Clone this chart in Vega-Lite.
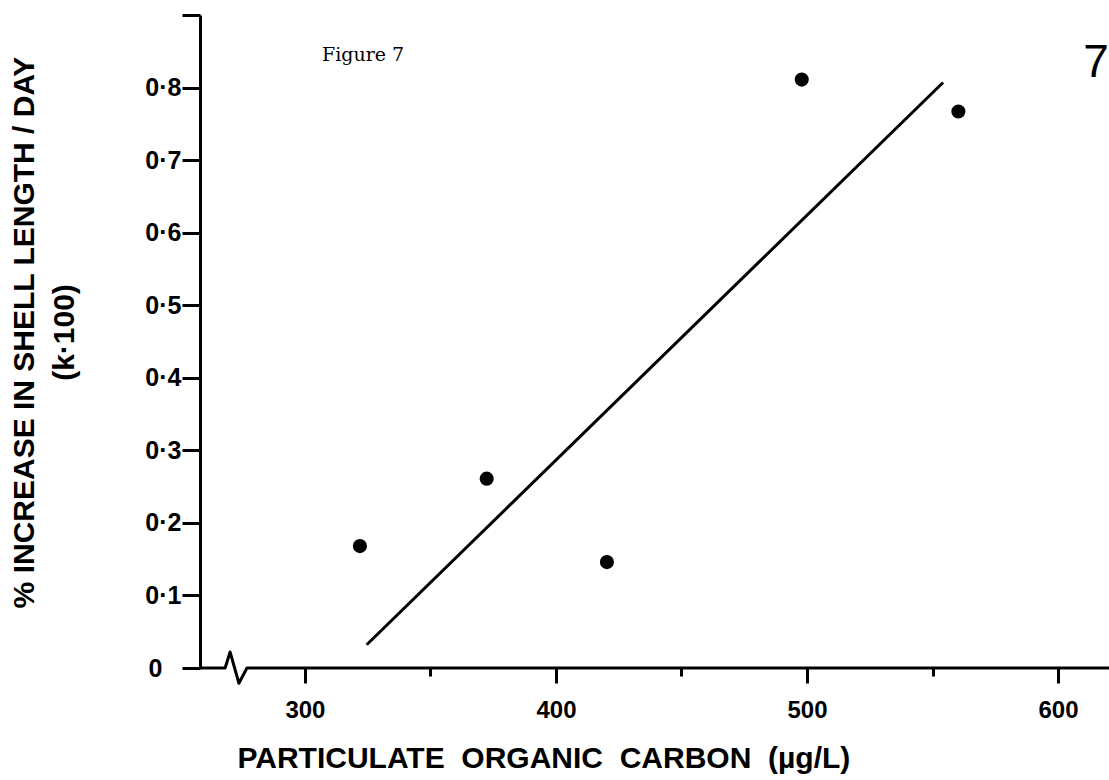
{
  "$schema": "https://vega.github.io/schema/vega-lite/v6.json",
  "width": 909,
  "height": 653,
  "autosize": {"type": "none"},
  "padding": {"left": 200, "top": 15, "right": 0, "bottom": 112},
  "background": "white",
  "config": {"view": {"stroke": null}, "font": "Liberation Sans"},
  "datasets": {
    "points": [
      {"carbon": 321.9, "k": 0.168},
      {"carbon": 372.4, "k": 0.261},
      {"carbon": 420.3, "k": 0.146},
      {"carbon": 497.9, "k": 0.811},
      {"carbon": 560.3, "k": 0.767}
    ],
    "fit": [
      {"carbon": 324.6, "k": 0.032},
      {"carbon": 554.2, "k": 0.807}
    ],
    "xaxisline": [
      {"seq": 1, "carbon": 258.2, "k": 0},
      {"seq": 2, "carbon": 268.2, "k": 0},
      {"seq": 3, "carbon": 270.2, "k": 0.022},
      {"seq": 4, "carbon": 273.7, "k": -0.021},
      {"seq": 5, "carbon": 276.9, "k": 0},
      {"seq": 6, "carbon": 620.3, "k": 0}
    ],
    "caption": [{"carbon": 306.8, "k": 0.836, "text": "Figure 7"}],
    "pagenum": [{"carbon": 610.0, "k": 0.815, "text": "7"}]
  },
  "encoding": {
    "x": {
      "field": "carbon",
      "type": "quantitative",
      "scale": {"domain": [258.2, 620.3], "nice": false, "zero": false},
      "axis": {
        "values": [300, 350, 400, 450, 500, 550, 600],
        "format": "d",
        "domain": false,
        "grid": false,
        "ticks": true,
        "tickColor": "black",
        "tickWidth": 3,
        "tickSize": {"condition": {"test": "datum.value % 100 === 0", "value": 15}, "value": 8},
        "labelExpr": "datum.value % 100 === 0 ? datum.label : ''",
        "labelFont": "Liberation Sans",
        "labelFontWeight": "bold",
        "labelFontSize": 24,
        "labelColor": "black",
        "labelPadding": 15,
        "title": "PARTICULATE\u00a0\u00a0ORGANIC\u00a0\u00a0CARBON\u00a0\u00a0(µg/L)",
        "titleFont": "Liberation Sans",
        "titleFontSize": 30,
        "titleFontWeight": "bold",
        "titleColor": "black",
        "titleAnchor": "start",
        "titleAlign": "left",
        "titleBaseline": "alphabetic",
        "titleX": 37,
        "titleY": 99
      }
    },
    "y": {
      "field": "k",
      "type": "quantitative",
      "scale": {"domain": [0, 0.9], "nice": false},
      "axis": {
        "values": [0, 0.1, 0.2, 0.3, 0.4, 0.5, 0.6, 0.7, 0.8, 0.9],
        "domain": true,
        "domainColor": "black",
        "domainWidth": 3,
        "grid": false,
        "tickColor": "black",
        "tickWidth": 3,
        "tickSize": 18,
        "labelExpr": "datum.value === 0 ? '0' : (datum.value > 0.85 ? '' : replace(format(datum.value, '.1f'), '.', '·'))",
        "labelPadding": {"condition": {"test": "datum.value === 0", "value": 20}, "value": 1},
        "labelFont": "Liberation Sans",
        "labelFontWeight": "bold",
        "labelFontSize": 25,
        "labelColor": "black",
        "title": ["% INCREASE IN SHELL LENGTH / DAY", "(k·100)"],
        "titleFont": "Liberation Sans",
        "titleFontSize": 30,
        "titleFontWeight": "bold",
        "titleColor": "black",
        "titleAngle": -90,
        "titleAlign": "center",
        "titleBaseline": "alphabetic",
        "titleLineHeight": 40,
        "titleX": -167,
        "titleY": 317
      }
    }
  },
  "layer": [
    {
      "data": {"name": "xaxisline"},
      "mark": {"type": "line", "color": "black", "strokeWidth": 3, "strokeJoin": "round"},
      "encoding": {"order": {"field": "seq", "type": "quantitative"}}
    },
    {
      "data": {"name": "fit"},
      "mark": {"type": "line", "color": "black", "strokeWidth": 3},
      "encoding": {}
    },
    {
      "data": {"name": "points"},
      "mark": {"type": "circle", "size": 200, "color": "black", "opacity": 1}
    },
    {
      "data": {"name": "caption"},
      "mark": {"type": "text", "font": "DejaVu Serif", "fontSize": 19, "align": "left", "baseline": "alphabetic", "color": "black"},
      "encoding": {"text": {"field": "text"}}
    },
    {
      "data": {"name": "pagenum"},
      "mark": {"type": "text", "font": "Liberation Sans", "fontSize": 46, "align": "left", "baseline": "alphabetic", "color": "black"},
      "encoding": {"text": {"field": "text"}}
    }
  ]
}
